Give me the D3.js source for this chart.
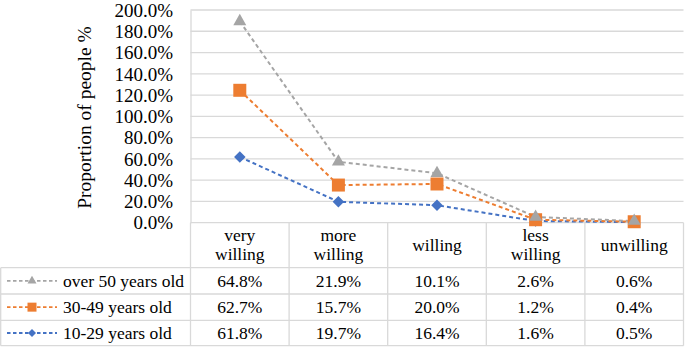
<!DOCTYPE html>
<html><head><meta charset="utf-8">
<script src="https://cdn.jsdelivr.net/npm/d3@7"></script>
</head>
<body style="margin:0">
<svg id="chart" width="685" height="347"></svg>
<script>
// ---- data ----
const categories = ["very willing", "more willing", "willing", "less willing", "unwilling"];
const categoryLines = [["very", "willing"], ["more", "willing"], ["willing"], ["less", "willing"], ["unwilling"]];
const seriesNames = ["over 50 years old", "30-49 years old", "10-29 years old"]; // table order
const over50 = [64.8, 21.9, 10.1, 2.6, 0.6];
const age30_49 = [62.7, 15.7, 20.0, 1.2, 0.4];
const age10_29 = [61.8, 19.7, 16.4, 1.6, 0.5];
const yTicks = [0, 20, 40, 60, 80, 100, 120, 140, 160, 180, 200];
const seriesColors = ["#a5a5a5", "#ed7d31", "#4472c4"];
const seriesMarkers = ["triangle", "square", "diamond"];

const seriesValues = [over50, age30_49, age10_29];
const FONT = "'" + ["Liberation", "Serif"].join(" ") + "'";

// ---- layout ----
const svg = d3.select("#chart");
const L = 190.5, R = 683.5, T = 10, Y0 = 222.7;
const headerBottom = 267.7;
const rowBounds = [267.7, 294, 320.3, 345.7];
const gridColor = "#d9d9d9";

const x = d3.scaleBand().domain(categories).range([L, R]).padding(0);
const y = d3.scaleLinear().domain([0, 200]).range([Y0, T]);

// stacked (cumulative) values: bottom = 10-29, then 30-49, top = over 50
const rows = categories.map((c, i) => ({cat: c, a: age10_29[i], b: age30_49[i], c: over50[i]}));
const stack = d3.stack().keys(["a", "b", "c"])(rows);
const stackByName = {"10-29 years old": stack[0], "30-49 years old": stack[1], "over 50 years old": stack[2]};

function txt(parent, xx, yy, s, size, anchor) {
  return parent.append("text").attr("x", xx).attr("y", yy + size * 0.33)
    .attr("font-family", FONT).attr("font-size", size).attr("fill", "#000")
    .attr("text-anchor", anchor || "start").text(s);
}

// gridlines
svg.append("g").selectAll("line").data(yTicks.filter(t => t > 0)).join("line")
  .attr("x1", L).attr("x2", R)
  .attr("y1", d => y(d)).attr("y2", d => y(d))
  .attr("stroke", gridColor).attr("stroke-width", 1.3);

// y axis
const yAxis = d3.axisLeft(y).tickValues(yTicks).tickFormat(d => d3.format(".1f")(d) + "%").tickSize(0).tickPadding(17.5);
const ya = svg.append("g").attr("transform", `translate(${L},0)`).call(yAxis);
ya.attr("font-family", FONT).attr("font-size", 19);
ya.select(".domain").attr("stroke", gridColor).attr("stroke-width", 1.3);
ya.selectAll("text").attr("font-family", FONT).attr("font-size", 19).attr("fill", "#000").attr("dy", "0.33em");

// axis title
svg.append("text").attr("transform", `translate(${91},${117.5}) rotate(-90)`)
  .attr("font-family", FONT).attr("font-size", 19.5).attr("fill", "#000")
  .attr("text-anchor", "middle").text("Proportion of people %");

// ---- table ----
const tbl = svg.append("g");
tbl.append("line").attr("x1", L).attr("x2", R).attr("y1", Y0).attr("y2", Y0).attr("stroke", gridColor).attr("stroke-width", 1.3);
rowBounds.forEach(yy => {
  tbl.append("line").attr("x1", 0.7).attr("x2", R).attr("y1", yy).attr("y2", yy).attr("stroke", gridColor).attr("stroke-width", 1.3);
});
const colEdges = categories.map(c => x(c)).concat([R]);
colEdges.forEach(xx => {
  tbl.append("line").attr("x1", xx).attr("x2", xx).attr("y1", Y0).attr("y2", rowBounds[3]).attr("stroke", gridColor).attr("stroke-width", 1.3);
});
tbl.append("line").attr("x1", 0.7).attr("x2", 0.7).attr("y1", rowBounds[0]).attr("y2", rowBounds[3]).attr("stroke", gridColor).attr("stroke-width", 1.3);

// header text
categories.forEach((c, i) => {
  const lines = categoryLines[i];
  const cx = x(c) + x.bandwidth() / 2;
  const mid = (Y0 + headerBottom) / 2;
  const lh = 19;
  lines.forEach((ln, k) => {
    txt(tbl, cx, mid + (k - (lines.length - 1) / 2) * lh, ln, 17.5, "middle");
  });
});

function markerPath(type, s) {
  if (type === "triangle") return d3.symbol(d3.symbolTriangle, s * s * 0.433)();
  if (type === "square") return d3.symbol(d3.symbolSquare, s * s)();
  return d3.symbol(d3.symbolDiamond2, s * s / 2)();
}

// rows
seriesNames.forEach((name, r) => {
  const top = rowBounds[r], bot = rowBounds[r + 1];
  const cy = (top + bot) / 2;
  const g = tbl.append("g");
  g.append("line").attr("x1", 7).attr("x2", 57).attr("y1", cy).attr("y2", cy)
    .attr("stroke", seriesColors[r]).attr("stroke-width", 1.8).attr("stroke-dasharray", "3.5,2.5");
  g.append("path").attr("d", markerPath(seriesMarkers[r], 9)).attr("transform", `translate(32,${cy})`).attr("fill", seriesColors[r]);
  txt(g, 63, cy, name, 17.5);
  seriesValues[r].forEach((v, i) => {
    txt(g, x(categories[i]) + x.bandwidth() / 2, cy, d3.format(".1f")(v) + "%", 17.5, "middle");
  });
});

// ---- lines ----
const drawOrder = ["10-29 years old", "30-49 years old", "over 50 years old"];
const line = d3.line().x(d => x(d.data.cat) + x.bandwidth() / 2).y(d => y(d[1]));
drawOrder.forEach(name => {
  const r = seriesNames.indexOf(name);
  svg.append("path").datum(stackByName[name]).attr("d", line).attr("fill", "none")
    .attr("stroke", seriesColors[r]).attr("stroke-width", 2).attr("stroke-dasharray", "4,3");
});
drawOrder.forEach(name => {
  const r = seriesNames.indexOf(name);
  svg.append("g").selectAll("path").data(stackByName[name]).join("path")
    .attr("d", markerPath(seriesMarkers[r], 13))
    .attr("transform", d => `translate(${x(d.data.cat) + x.bandwidth() / 2},${y(d[1])})`)
    .attr("fill", seriesColors[r]);
});
</script>
</body></html>
